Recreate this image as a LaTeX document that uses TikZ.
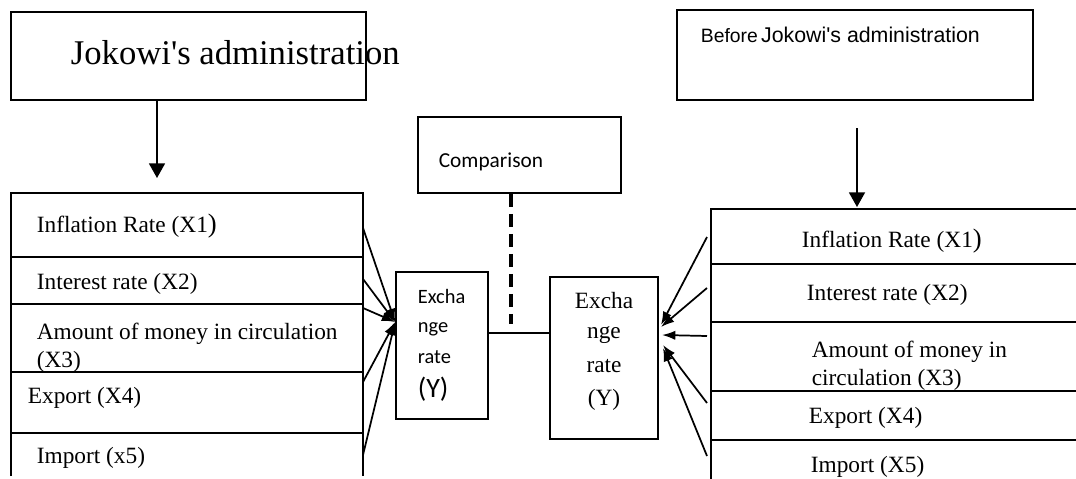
\documentclass[tikz,border=0pt]{standalone}
\usepackage{fontspec}
\setmainfont{Liberation Serif}
\newfontfamily\carlito{Carlito}
\newfontfamily\arialf{Liberation Sans}
\usetikzlibrary{arrows.meta,calc,fit}
\begin{document}
\begin{tikzpicture}[x=0.75pt,y=-0.75pt,line width=1.3pt,
  box/.style={draw,rectangle,inner sep=0pt},
  item/.style={anchor=base west,inner sep=0pt,font=\fontsize{17.5}{21}\selectfont,align=left},
  serifex/.style={anchor=base,inner sep=0pt,font=\fontsize{17.5}{21}\selectfont},
  sansex/.style={anchor=base west,inner sep=0pt,font=\carlito\fontsize{15.3}{18}\selectfont},
  conv/.style={-{Latex[length=10pt,width=7pt]}},
  down/.style={-{Triangle[length=11pt,width=12pt]}},
  dashconn/.style={line width=2.5pt,dash pattern=on 10pt off 5pt}]
\useasboundingbox (0,0) rectangle (1076,479);

% boxes
\node[box,fit={(11,12) (366,100)}] (tl) {};
\node[box,fit={(677,10) (1033,100)}] (tr) {};
\node[box,fit={(418,117) (621,193)}] (cmp) {};
\node[box,fit={(396,272) (488,419)}] (exL) {};
\node[box,fit={(550,277) (658,439)}] (exR) {};

% box texts
\node[anchor=base west,inner sep=0pt,font=\fontsize{26}{30}\selectfont] (tlt) at (70,64) {Jokowi\textquotesingle s administration};
\node[anchor=base west,inner sep=0pt] (trt) at (700,42) {{\arialf\fontsize{14.5}{17}\selectfont Before} {\arialf\fontsize{16}{19}\selectfont Jokowi\textquotesingle s administration}};
\node[anchor=base west,inner sep=0pt,font=\carlito\fontsize{16}{19}\selectfont] (cmpt) at (438,167) {Comparison};

\node[sansex] (el1) at (417,303) {Excha};
\node[sansex] (el2) at (417,332) {nge};
\node[sansex] (el3) at (417,363) {rate};
\node[sansex,font=\carlito\fontsize{21}{24}\selectfont] (el4) at (417,397) {(Y)};

\node[serifex] (er1) at (604,308) {Excha};
\node[serifex] (er2) at (604,338) {nge};
\node[serifex] (er3) at (604,372) {rate};
\node[serifex] (er4) at (604,405) {(Y)};

% left stack
\draw (11,476) -- (11,193) -- (363,193) -- (363,476);
\foreach \y in {257,304,372,433} \draw (11,\y) -- (363,\y);
\node[item] (l1) at (36,232) {Inflation Rate (X1{\fontsize{20}{21}\selectfont)}};
\node[item] (l2) at (36,289) {Interest rate (X2)};
\node[item] (l3) at (36,339) {Amount of money in circulation};
\node[item] (l3b) at (36,367) {(X3)};
\node[item] (l4) at (27,403) {Export (X4)};
\node[item] (l5) at (36,463) {Import (x5)};

% right stack
\draw (711,479) -- (711,209) -- (1076,209);
\foreach \y in {264,322,391,440} \draw (711,\y) -- (1076,\y);
\node[item] (r1) at (801,247) {Inflation Rate (X1{\fontsize{20}{21}\selectfont)}};
\node[item] (r2) at (806,300) {Interest rate (X2)};
\node[item] (r3) at (811,357) {Amount of money in};
\node[item] (r3b) at (811,385) {circulation (X3)};
\node[item] (r4) at (808,423) {Export (X4)};
\node[item] (r5) at (810,472) {Import (X5)};

% vertical arrows
\coordinate (a1) at (157,178);
\draw[down] (tl.south -| a1) -- (a1);
\coordinate (a2s) at (857,128);
\coordinate (a2) at (857,207);
\draw[down] (a2s) -- (a2);

% dashed and connecting line
\coordinate (dashend) at (511,324);
\draw[dashconn] (cmp.south -| dashend) -- (dashend);
\coordinate (hy) at (0,333);
\draw (exL.east |- hy) -- (exR.west |- hy);

% converging arrows, left
\coordinate (yL) at (0,322);
\coordinate (Ltip) at (exL.west |- yL);
\foreach \y [count=\i] in {228,279,308,382,455} {
  \coordinate (L\i) at (363,\y);
  \draw[conv] (L\i) -- (Ltip);
}

% converging arrows, right
\coordinate (Rt1) at (661,325);
\coordinate (Rt2) at (661,327);
\coordinate (Rt3) at (662,335);
\coordinate (Rt4) at (663,345);
\coordinate (Rt5) at (663,348);
\foreach \y [count=\i] in {237,288,336,403,456} {
  \coordinate (R\i) at (707,\y);
  \draw[conv] (R\i) -- (Rt\i);
}
\end{tikzpicture}
\end{document}
